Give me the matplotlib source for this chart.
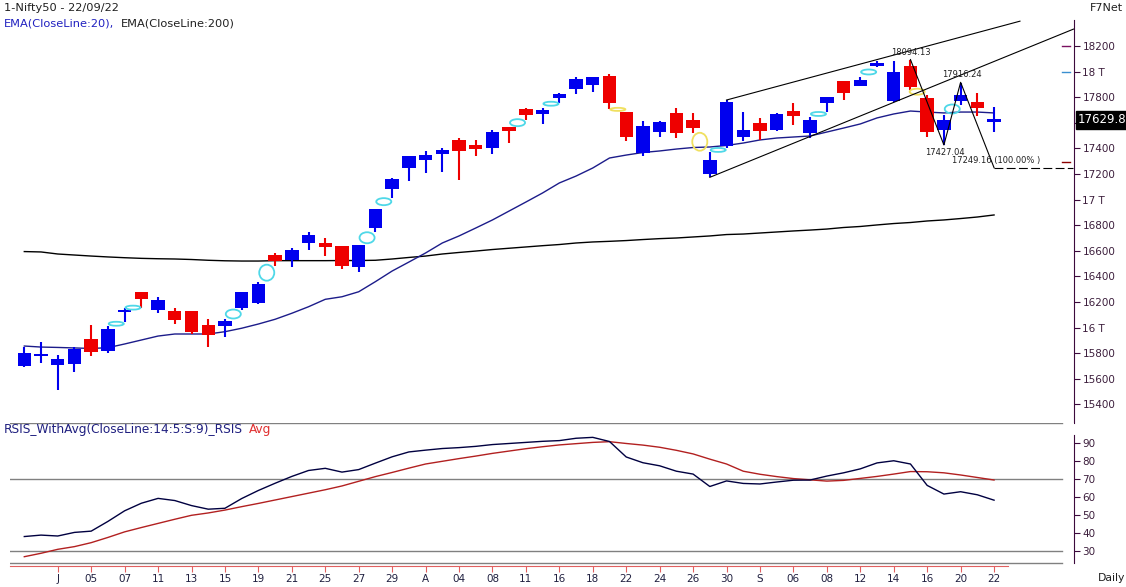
import matplotlib
matplotlib.use("Agg")
import matplotlib.pyplot as plt
from matplotlib.patches import Ellipse

W, H = 1126, 587

# daily candles, 29 Jun 2022 .. 22 Sep 2022
opens = [15700, 15780, 15709, 15718, 15911, 15820, 16118, 16278, 16140, 16130,
         16130, 16020, 16015, 16153, 16195, 16567, 16528, 16663, 16664, 16638,
         16476, 16781, 17085, 17249, 17312, 17354, 17466, 17427, 17406, 17570,
         17708, 17666, 17796, 17867, 17898, 17968, 17684, 17362, 17531, 17674,
         17622, 17198, 17419, 17492, 17596, 17544, 17692, 17523, 17752, 17927,
         17890, 18046, 17773, 18044, 17791, 17544, 17773, 17765, 17609]
highs = [15848, 15888, 15786, 15848, 16020, 16010, 16150, 16278, 16241, 16156,
         16130, 16065, 16065, 16280, 16354, 16585, 16620, 16749, 16698, 16638,
         16648, 16930, 17167, 17343, 17380, 17401, 17479, 17466, 17544, 17570,
         17712, 17718, 17835, 17955, 17960, 17981, 17684, 17614, 17614, 17718,
         17679, 17374, 17778, 17682, 17635, 17679, 17757, 17643, 17799, 17927,
         17960, 18085, 18083, 18094, 17820, 17661, 17909, 17830, 17722]
lows = [15692, 15724, 15512, 15653, 15780, 15800, 16040, 16155, 16112, 16030,
        15950, 15851, 15924, 16137, 16184, 16481, 16476, 16606, 16560, 16460,
        16437, 16745, 17015, 17148, 17210, 17218, 17153, 17343, 17354, 17440,
        17622, 17591, 17757, 17825, 17843, 17705, 17460, 17341, 17492, 17484,
        17518, 17174, 17401, 17460, 17466, 17538, 17583, 17479, 17687, 17778,
        17890, 18038, 17765, 17856, 17492, 17427, 17739, 17653, 17532]
closes = [15802, 15788, 15755, 15835, 15812, 15989, 16141, 16226, 16216, 16062,
          15968, 15942, 16051, 16278, 16341, 16523, 16606, 16723, 16632, 16481,
          16645, 16924, 17159, 17341, 17348, 17388, 17382, 17398, 17531, 17538,
          17663, 17700, 17825, 17942, 17955, 17757, 17491, 17575, 17606, 17523,
          17562, 17309, 17765, 17544, 17538, 17669, 17653, 17622, 17799, 17835,
          17934, 18065, 18000, 17882, 17531, 17622, 17817, 17718, 17630]

ema20 = [15856, 15848, 15845, 15841, 15837, 15843, 15872, 15903, 15934, 15950,
         15950, 15950, 15968, 15995, 16028, 16065, 16112, 16163, 16221, 16241,
         16280, 16359, 16442, 16512, 16583, 16661, 16716, 16778, 16841, 16911,
         16981, 17052, 17130, 17184, 17247, 17325, 17348, 17368, 17380, 17395,
         17407, 17411, 17423, 17442, 17466, 17481, 17489, 17497, 17528, 17559,
         17591, 17638, 17669, 17692, 17684, 17677, 17684, 17684, 17677]
ema200 = [16594, 16591, 16575, 16567, 16559, 16552, 16546, 16541, 16538, 16536,
          16532, 16526, 16522, 16520, 16520, 16523, 16523, 16523, 16523, 16524,
          16524, 16526, 16536, 16548, 16559, 16575, 16587, 16598, 16610, 16620,
          16630, 16640, 16649, 16661, 16669, 16674, 16680, 16688, 16695, 16700,
          16708, 16716, 16727, 16731, 16739, 16747, 16755, 16762, 16770, 16782,
          16790, 16802, 16813, 16821, 16833, 16841, 16852, 16864, 16880]

rsi = [38.2, 39.0, 38.5, 40.5, 41.2, 46.6, 52.5, 56.7, 59.4, 58.2,
       55.4, 53.4, 53.9, 59.3, 63.8, 67.8, 71.6, 74.9, 76.1, 74.0,
       75.4, 79.0, 82.5, 85.2, 86.2, 87.1, 87.6, 88.3, 89.3, 89.9,
       90.5, 91.1, 91.5, 92.8, 93.3, 91.0, 82.4, 79.2, 77.5, 74.5,
       72.9, 66.0, 69.1, 67.7, 67.4, 68.5, 69.5, 69.6, 71.8, 73.6,
       75.8, 79.1, 80.3, 78.5, 66.6, 61.8, 63.1, 61.4, 58.4]
rsi_avg = [27.0, 28.9, 31.1, 32.6, 34.8, 37.7, 40.8, 43.2, 45.5, 47.8,
           50.0, 51.3, 52.9, 54.8, 56.6, 58.5, 60.4, 62.3, 64.2, 66.3,
           68.9, 71.5, 73.8, 76.2, 78.5, 80.0, 81.5, 82.9, 84.4, 85.7,
           87.0, 88.1, 89.1, 89.8, 90.5, 90.9, 89.9, 89.0, 87.8, 86.1,
           84.1, 81.2, 78.5, 74.5, 72.8, 71.5, 70.4, 69.7, 69.0, 69.4,
           70.5, 71.6, 72.9, 74.3, 74.2, 73.6, 72.4, 71.0, 69.6]

tick_pos = list(range(2, 59, 2))
tick_lbl = ['J', '05', '07', '11', '13', '15', '19', '21', '25', '27', '29',
            'A', '04', '08', '11', '16', '18', '22', '24', '26', '30',
            'S', '06', '08', '12', '14', '16', '20', '22']

# zigzag swing points
zz_idx = [53, 55, 56, 58]
zz_val = [18094.13, 17427.04, 17916.24, 17249.16]

# channel lines (start / end)
up_x, up_y = [42, 59.55], [17778, 18394]
lo_x, lo_y = [41, 62.75], [17174, 18332]

# gap markers
mk_x = [5.5, 6.5, 12.5, 14.5, 20.5, 21.5, 29.5, 31.5, 35.5, 40.4, 41.5, 47.5, 50.5, 53.4, 55.5]
mk_y = [16030, 16156, 16106, 16429, 16702, 16984, 17601, 17749, 17705, 17452, 17388, 17669, 17997, 17843, 17708]
mk_h = [31, 31, 70, 125, 86, 55, 55, 31, 24, 140, 31, 31, 39, 47, 70]
mk_c = ['c', 'c', 'c', 'c', 'c', 'c', 'c', 'c', 'y', 'y', 'c', 'c', 'c', 'y', 'c']

X0, DX = 24.3, 16.72  # pixel of first candle, pixel step


def fx(px):
    return px / W


def fy(py):
    return 1 - py / H


fig = plt.figure(figsize=(W / 100, H / 100), dpi=100)
fig.patch.set_facecolor('white')

# ---------- price panel
ax = fig.add_axes([fx(10), fy(423), fx(1074) - fx(10), fy(20) - fy(423)])
ax.set_xlim((10 - X0) / DX, (1074 - X0) / DX)
ax.set_ylim(18200 - 7.8125 * (423 - 46), 18200 + 7.8125 * 26)
for s in ['top', 'left', 'bottom']:
    ax.spines[s].set_visible(False)
ax.spines['right'].set_color('#3c0a3c')
ax.set_xticks([])
ax.yaxis.tick_right()
pt = list(range(15400, 18201, 200))
ax.set_yticks(pt)
# 17600 sits under the last-price tag
lbls = []
for v in pt:
    if v == 17600:
        lbls.append('')
    elif v % 1000 == 0:
        lbls.append(f"{v // 1000} T")
    else:
        lbls.append(str(v))
ax.set_yticklabels(lbls)
ax.tick_params(axis='y', direction='out', length=4, color='#3c0a3c',
               labelcolor='#3c1e3c', labelsize=7.5, pad=2)

n = len(closes)
xs = list(range(n))
ax.plot(xs, ema200, color='black', lw=1.0, zorder=2)
ax.plot(xs, ema20, color='#1c1c8a', lw=1.0, zorder=2)

for i in range(n):
    o, h, l, c = opens[i], highs[i], lows[i], closes[i]
    col = '#0000ee' if c >= o else '#ee0000'
    ax.vlines(i, l, h, color=col, lw=1.5, zorder=3)
    bot = min(o, c)
    ht = max(abs(c - o), 11)
    ax.bar(i, ht, bottom=bot, width=0.8, color=col, edgecolor='none', zorder=4)

for x, y, hh, cc in zip(mk_x, mk_y, mk_h, mk_c):
    ec = '#4fd8e8' if cc == 'c' else '#f0e060'
    ax.add_patch(Ellipse((x, y), 0.9, hh, fill=False, edgecolor=ec, lw=1.3, zorder=5))

ax.plot(up_x, up_y, color='black', lw=0.8, zorder=6, clip_on=False)
ax.plot(lo_x, lo_y, color='black', lw=0.8, zorder=6, clip_on=False)
ax.plot(zz_idx, zz_val, color='black', lw=0.8, zorder=6)
ax.plot([zz_idx[-1], lo_x[1]], [zz_val[-1], zz_val[-1]], color='black', lw=0.8,
        dashes=(8, 3), zorder=6, clip_on=False)

tk = dict(fontsize=6, color='#202020', zorder=7)
ax.text(53.03, 18148, '18094.13', ha='center', va='center', **tk)
ax.text(56.08, 17979, '17916.24', ha='center', va='center', **tk)
ax.text(55.07, 17366, '17427.04', ha='center', va='center', **tk)
ax.text(55.47, 17302, '17249.16 (100.00% )', ha='left', va='center', **tk)

# level marks next to the axis
for lv, cl in [(18200, '#7a1060'), (18000, '#3a8fd0'), (17294, '#8b0000')]:
    ax.plot([62.06, 62.54], [lv, lv], color=cl, lw=1.0, clip_on=False)

# ---------- RSI panel
ar = fig.add_axes([fx(10), fy(566), fx(1074) - fx(10), fy(423) - fy(566)])
ar.set_xlim(ax.get_xlim())
ar.set_ylim(90 - (566 - 443.3) / 1.8, 90 + (443.3 - 423) / 1.8)
for s in ['top', 'left']:
    ar.spines[s].set_visible(False)
ar.spines['right'].set_color('#3c0a3c')
ar.spines['right'].set_bounds(23.7, 94.6)
ar.spines['bottom'].set_color('#e06060')
ar.spines['bottom'].set_bounds((10 - X0) / DX, (1008 - X0) / DX)
ar.yaxis.tick_right()
ar.set_yticks([30, 40, 50, 60, 70, 80, 90])
ar.tick_params(axis='y', direction='out', length=4, color='#3c0a3c',
               labelcolor='#3c1e3c', labelsize=7.5, pad=2)
ar.set_xticks(tick_pos)
ar.set_xticklabels(tick_lbl)
ar.tick_params(axis='x', direction='out', length=4, color='#e06060',
               labelcolor='#202040', labelsize=7.5, pad=2)
gx = (1062 - 10) / (1074 - 10)
for lv in [70, 30, 23.7, 101.2]:
    ar.axhline(lv, xmin=0, xmax=gx, color='#808080', lw=1.0)
ar.plot(xs, rsi_avg, color='#b22020', lw=1.0)
ar.plot(xs, rsi, color='#000040', lw=1.0)

# ---------- texts
fig.text(fx(4), fy(8), '1-Nifty50 - 22/09/22', fontsize=8.2, color='#202020', va='center')
fig.text(fx(4), fy(24), 'EMA(CloseLine:20),', fontsize=8.2, color='#2020c0', va='center')
fig.text(fx(121), fy(24), 'EMA(CloseLine:200)', fontsize=8.2, color='#202020', va='center')
fig.text(fx(1090), fy(8), 'F7Net', fontsize=8, color='#202020', va='center')
fig.text(fx(4), fy(430), 'RSIS_WithAvg(CloseLine:14:5:S:9)_RSIS', fontsize=8.7,
         color='#202080', va='center')
fig.text(fx(249), fy(430), 'Avg', fontsize=8.7, color='#e03030', va='center')
fig.text(fx(1098), fy(578), 'Daily', fontsize=7.8, color='#202020', va='center')
fig.text(fx(1078), fy(120), '17629.8', fontsize=8.5, color='white', va='center',
         bbox=dict(facecolor='black', edgecolor='black', pad=1.5))

fig.savefig('out.png', dpi=100, facecolor='white')
